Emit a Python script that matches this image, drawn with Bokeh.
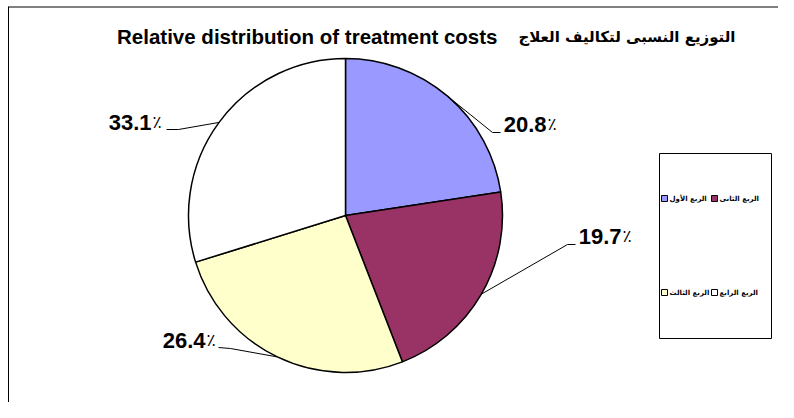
import math
from bokeh.plotting import figure
from bokeh.models import Range1d
from bokeh.core.properties import value
from bokeh.embed import file_html
from bokeh.resources import INLINE

# ---- data ----
categories = ["الربع الأول", "الربع الثانى", "الربع الثالث", "الربع الرابع"]
label_values = [20.8, 19.7, 26.4, 33.1]          # printed percentages
slice_shares = [22.6, 21.5, 26.1, 29.8]          # angular shares of the drawn slices
colors = ["#9999FF", "#993366", "#FFFFCC", "#FFFFFF"]
title_en = "Relative distribution of treatment costs"
title_ar = "التوزيع النسبى لتكاليف العلاج"

W, H = 778, 402
def X(rx): return rx
def Y(ry): return 401 - ry

p = figure(width=W, height=H, output_backend="svg", toolbar_location=None,
           x_range=Range1d(0, W), y_range=Range1d(0, H),
           x_axis_type=None, y_axis_type=None, min_border=0,
           outline_line_color=None, background_fill_color="white")

# chart frame (top grey, left black)
p.segment(x0=[X(8), X(8)], y0=[Y(5.5), Y(5)], x1=[W, X(8)], y1=[Y(5.5), 0],
          line_color=["#808080", "black"], line_width=[2, 1])

# pie
cx, cy, r = X(345), Y(214), 157
total = sum(slice_shares)
starts, ends, mids = [], [], []
cum = 0.0
for s in slice_shares:
    a0 = math.pi / 2 - 2 * math.pi * cum / total
    cum += s
    a1 = math.pi / 2 - 2 * math.pi * cum / total
    starts.append(a0); ends.append(a1); mids.append((a0 + a1) / 2)
p.wedge(x=[cx] * 4, y=[cy] * 4, radius=r, start_angle=starts, end_angle=ends,
        direction="clock", fill_color=colors, line_color="black", line_width=1.5)

# data labels with leader lines
label_layout = [  # (number right edge x, text center y, elbow, near-text end) in reference px
    (546, 123, (492, 131), (500, 131)),
    (621, 235, (567, 243), (575, 243)),
    (205, 339, (230, 347), (218, 346)),
    (151, 121, (178, 128), (166, 128)),
]
xs, ys = [], []
for m, (tx, ty, el, en) in zip(mids, label_layout):
    ex, ey = cx + r * math.cos(m), cy + r * math.sin(m)
    xs.append([ex, X(el[0]), X(en[0])])
    ys.append([ey, Y(el[1]), Y(en[1])])
p.multi_line(xs=xs, ys=ys, line_color="black", line_width=1)
p.text(x=[X(l[0]) for l in label_layout], y=[Y(l[1]) for l in label_layout],
       text=[f"{v:.1f}" for v in label_values],
       text_font=value("Liberation Sans"), text_font_style="bold",
       text_font_size="22px", text_align="right", text_baseline="middle",
       text_color="black")
p.text(x=[X(l[0] + 1) for l in label_layout], y=[Y(l[1] - 1) for l in label_layout],
       text=["٪"] * len(label_values),
       text_font=value("DejaVu Sans"), text_font_size="17px",
       text_align="left", text_baseline="middle", text_color="black")

# title
p.text(x=[X(497)], y=[Y(35)], text=[title_en], text_font=value("Liberation Sans"),
       text_font_style="bold", text_font_size="20.5px", text_align="right",
       text_baseline="middle", text_color="black")
p.text(x=[X(735)], y=[Y(35)], text=[title_ar], text_font=value("DejaVu Sans"),
       text_font_style="bold", text_font_size="15px", text_align="right",
       text_baseline="middle", text_color="black")

# legend box
p.quad(left=[X(659)], right=[X(771)], top=[Y(152)], bottom=[Y(337)],
       fill_color="white", line_color="black", line_width=1)
leg_pos = [(664, 197), (714, 197), (664, 291), (714, 291)]
p.rect(x=[X(a) for a, b in leg_pos], y=[Y(b) for a, b in leg_pos],
       width=6, height=6, fill_color=colors, line_color="black", line_width=1)
p.text(x=[X(a + 5) for a, b in leg_pos], y=[Y(b) for a, b in leg_pos],
       text=categories, text_font=value("DejaVu Sans"), text_font_style="bold",
       text_font_size="7px", text_align="left", text_baseline="middle",
       text_color="black")

open("out.html", "w").write(file_html(p, INLINE))
